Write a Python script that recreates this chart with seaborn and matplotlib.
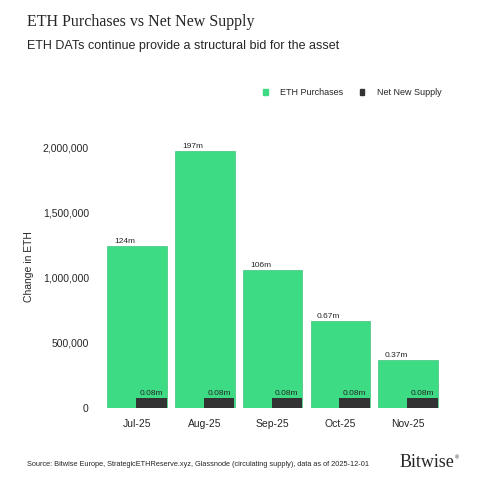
import matplotlib
matplotlib.use("Agg")
import matplotlib.pyplot as plt
import seaborn as sns
import pandas as pd
from matplotlib.ticker import FuncFormatter

months = ["Jul-25", "Aug-25", "Sep-25", "Oct-25", "Nov-25"]
eth_purchases = [1240000, 1970000, 1060000, 670000, 370000]
net_new_supply = [75000, 75000, 75000, 75000, 75000]
purchase_labels = ["124m", "197m", "106m", "0.67m", "0.37m"]
supply_labels = ["0.08m"] * 5

sns.set_theme(style="white")
plt.rcParams["font.family"] = ["Liberation Sans", "DejaVu Sans"]

df = pd.DataFrame({"month": months, "eth": eth_purchases, "sup": net_new_supply})
fig = plt.figure(figsize=(4.83, 4.83), dpi=100)
ax = fig.add_axes([0.207, 0.155, 0.729, 0.586])
green = "#3ddc84"
dark = "#333333"
sns.barplot(data=df, x="month", y="eth", color=green, width=0.88, ax=ax, saturation=1,
            linewidth=0.4, edgecolor="#2fb86c")
n = len(ax.patches)
sns.barplot(data=df, x="month", y="sup", color=dark, width=0.45, ax=ax, saturation=1,
            linewidth=0)
for p in ax.patches[n:]:
    p.set_x(p.get_x() + 0.21)
for i, p in enumerate(ax.patches[:n]):
    ax.text(p.get_x() + p.get_width() * 0.3, p.get_height() + 8000, purchase_labels[i],
            ha="center", va="bottom", fontsize=6)
for i, p in enumerate(ax.patches[n:]):
    ax.text(p.get_x() + p.get_width() / 2, p.get_height() + 8000, supply_labels[i],
            ha="center", va="bottom", fontsize=6)
ax.set_xlim(-0.55, 4.65)
ax.set_ylim(0, 2170000)
ax.set_yticks([0, 500000, 1000000, 1500000, 2000000])
ax.yaxis.set_major_formatter(FuncFormatter(lambda v, _: f"{int(v):,}"))
ax.tick_params(axis="both", labelsize=7.5, length=0, pad=8)
ax.set_xlabel("")
ax.set_ylabel("Change in ETH", fontsize=7.5, labelpad=6)
for s in ax.spines.values():
    s.set_visible(False)

fig.text(0.055, 0.955, "ETH Purchases vs Net New Supply", fontsize=11.5,
         family=["Liberation Serif"], va="center")
fig.text(0.055, 0.905, "ETH DATs continue provide a structural bid for the asset", fontsize=9, va="center")
fig.patches.append(plt.Rectangle((0.545, 0.803), 0.009, 0.012, color=green, transform=fig.transFigure))
fig.text(0.58, 0.809, "ETH Purchases", fontsize=6.5, va="center")
fig.patches.append(plt.Rectangle((0.745, 0.803), 0.009, 0.012, color=dark, transform=fig.transFigure))
fig.text(0.78, 0.809, "Net New Supply", fontsize=6.5, va="center")
fig.text(0.055, 0.038, "Source: Bitwise Europe, StrategicETHReserve.xyz, Glassnode (circulating supply), data as of 2025-12-01",
         fontsize=5.3, va="center")
fig.text(0.94, 0.043, "Bitwise", fontsize=13, family=["Liberation Serif"], ha="right", va="center")
fig.text(0.941, 0.052, "®", fontsize=4, ha="left", va="center")
fig.savefig("out.png", dpi=100, facecolor="white")
